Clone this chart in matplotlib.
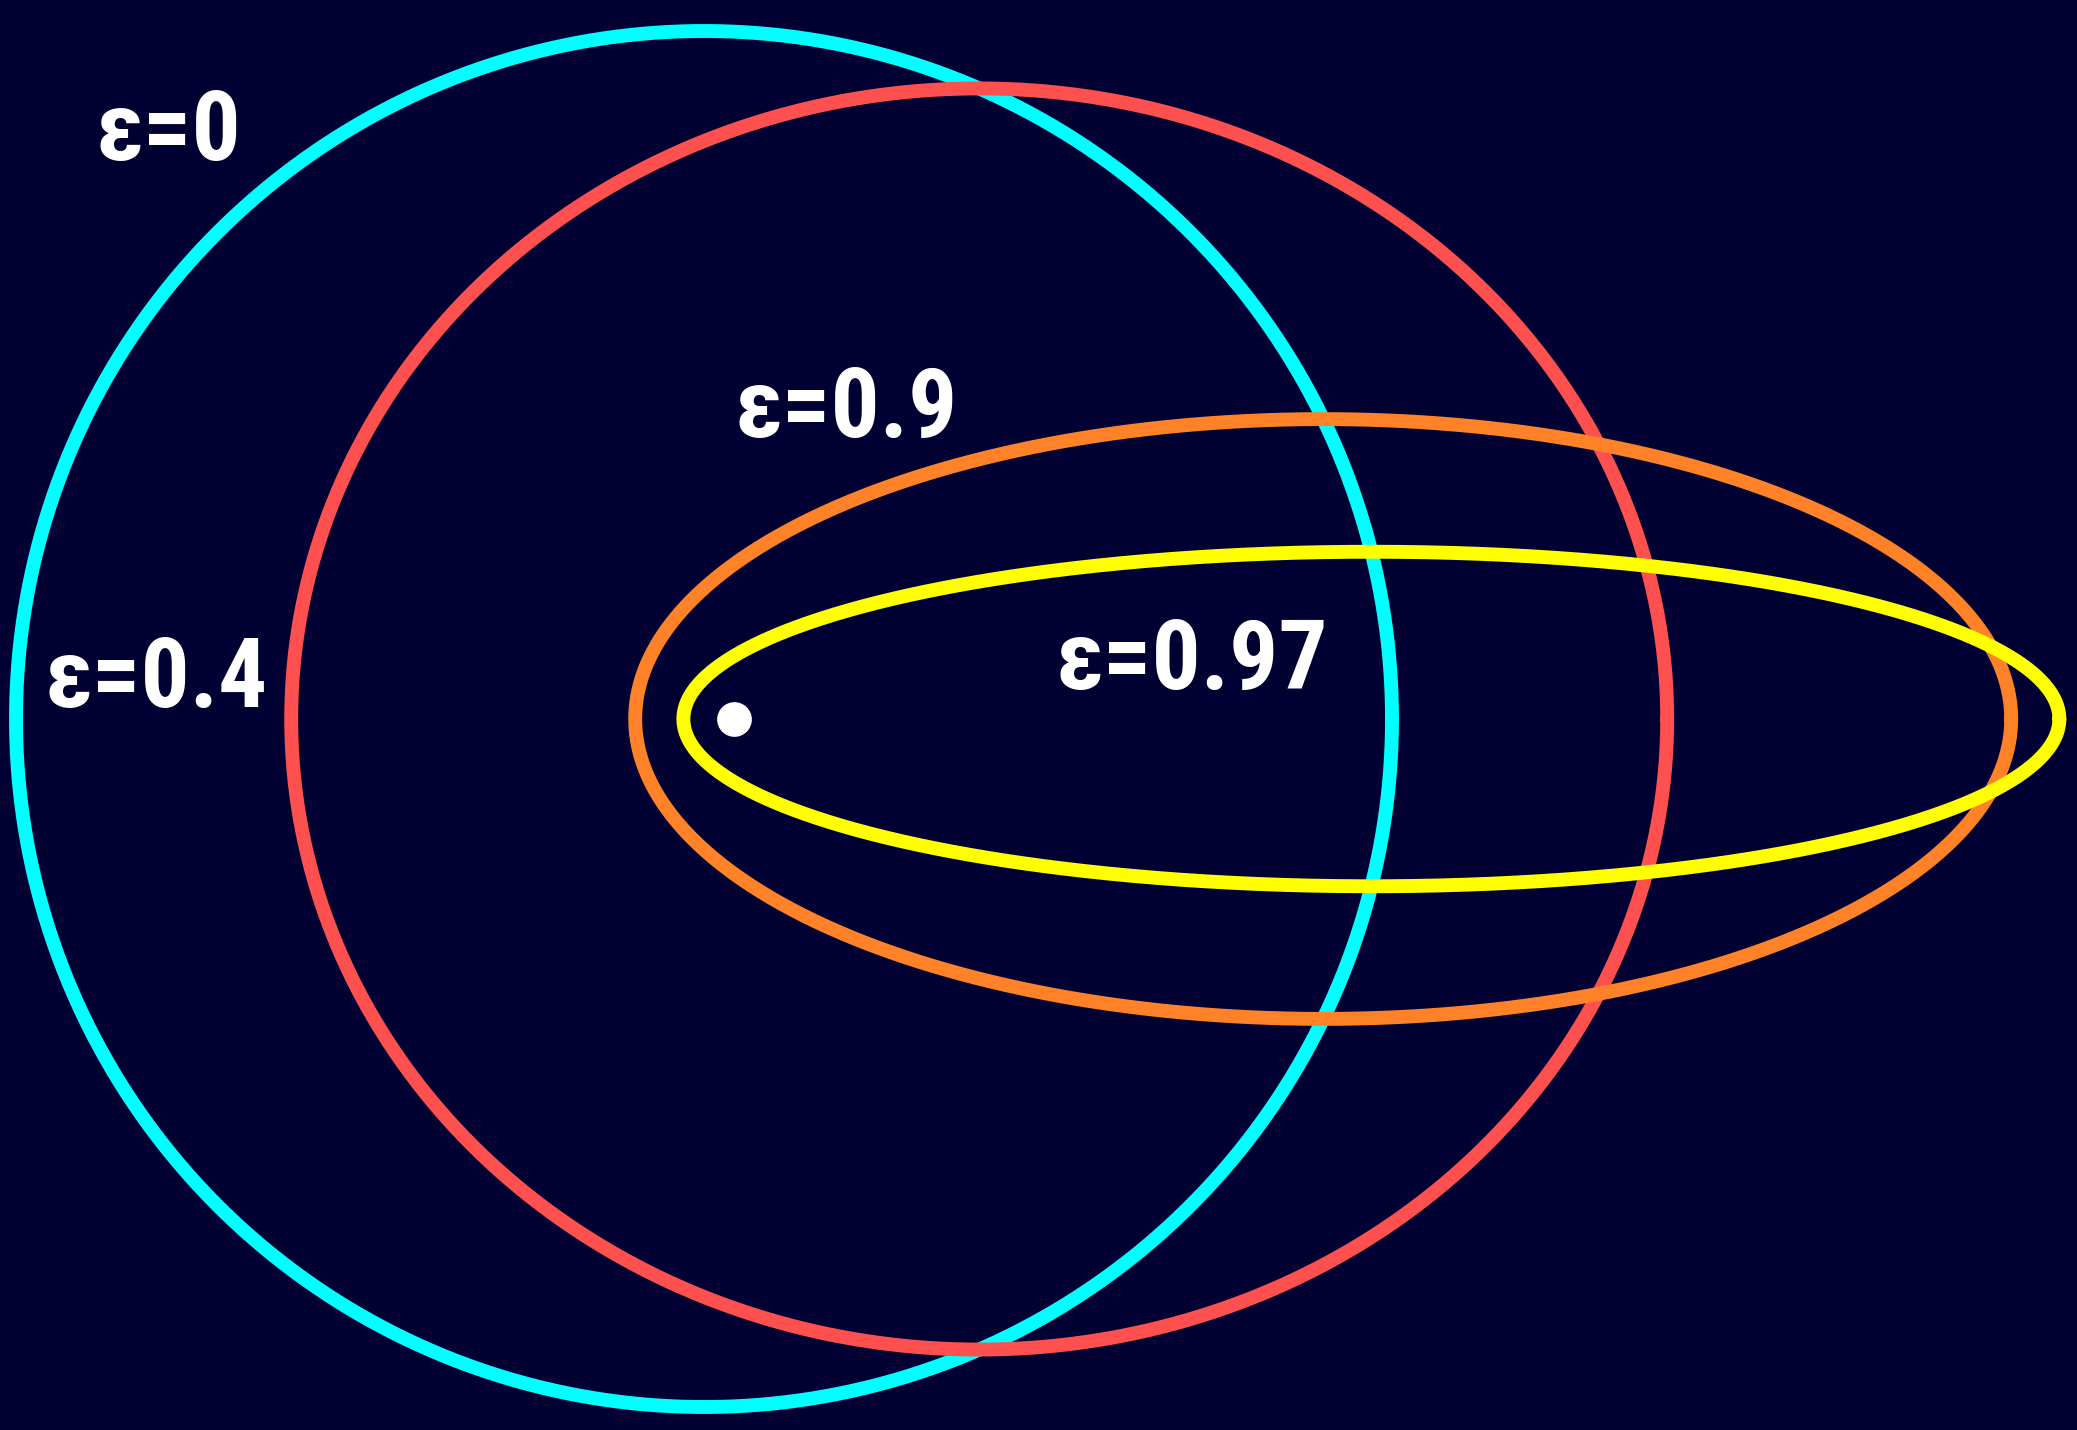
import numpy as np
import matplotlib
matplotlib.use("Agg")
import matplotlib.pyplot as plt

# Orbit data (units of the shared semi-major axis, focus at origin)
eccentricities = [0.0, 0.4, 0.9, 0.97]
labels = ["ε=0", "ε=0.4", "ε=0.9", "ε=0.97"]
colors = ["#00ffff", "#ff5050", "#ff8228", "#ffff00"]
semi_major = 1.0
label_x = [-0.778, -0.796, 0.206, 0.709]
label_y = [0.8125, 0.0174, 0.410, 0.0436]
star_x = [0.0436]
star_y = [0.0]

bg = "#000033"
fig = plt.figure(figsize=(20.77, 14.30), dpi=100, facecolor=bg)
ax = fig.add_axes([0, 0, 1, 1])
ax.set_facecolor(bg)

theta = np.linspace(0, 2 * np.pi, 1000)
for e, c in zip(eccentricities, colors):
    b = semi_major * np.sqrt(1 - e ** 2)
    cx = semi_major * e
    ax.plot(cx + semi_major * np.cos(theta), b * np.sin(theta),
            color=c, lw=10, solid_capstyle="round")

ax.plot(star_x, star_y, "o", color="white", markersize=25, markeredgewidth=0)

fam = ["Liberation Sans Narrow", "Roboto Condensed", "DejaVu Sans"]
for lx, ly, t in zip(label_x, label_y, labels):
    ax.text(lx, ly, t, color="white", fontsize=70, fontweight="bold",
            family=fam, ha="center", va="baseline")

ax.set_xlim(-704 / 688, 1373 / 688)
ax.set_ylim(-711 / 688, 719 / 688)
ax.set_aspect("equal")
ax.axis("off")

fig.savefig("out.png", dpi=100, facecolor=bg)
